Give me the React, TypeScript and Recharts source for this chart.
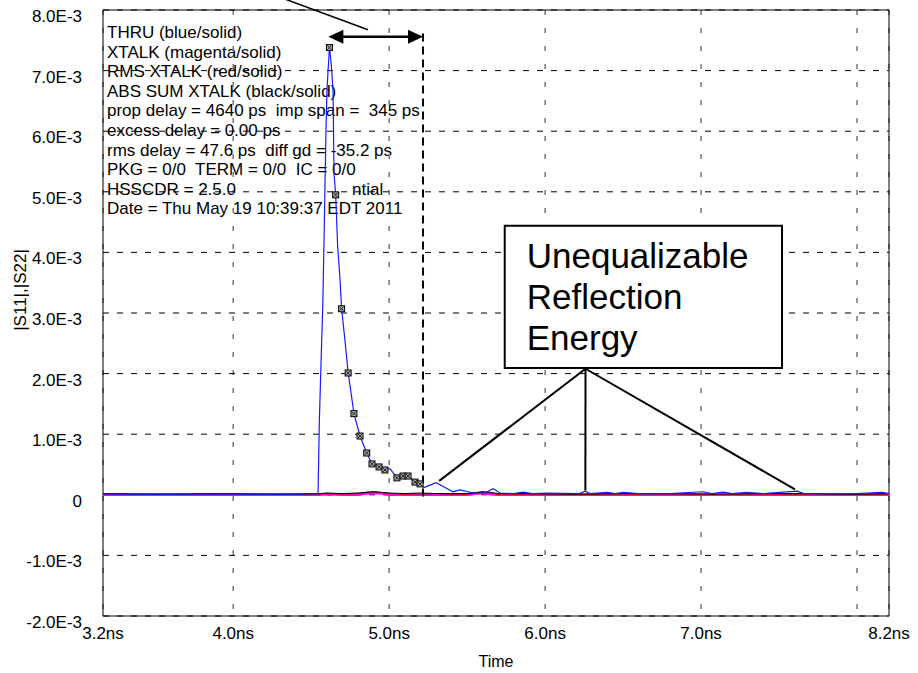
import React from "react";
import {
  ComposedChart,
  Line,
  XAxis,
  YAxis,
  CartesianGrid,
  ReferenceLine,
  ReferenceArea,
} from "recharts";

// magnitudes are kept in units of 1E-3, time in ns
const thruTime = [
  3.165, 3.5, 3.9, 4.2, 4.45, 4.544, 4.552, 4.563, 4.574, 4.582, 4.588, 4.595, 4.601, 4.617, 4.627,
  4.64, 4.643, 4.646, 4.657, 4.67, 4.685, 4.695, 4.716, 4.737, 4.759, 4.774, 4.813, 4.856, 4.89,
  4.935, 4.973, 5.005, 5.05, 5.089, 5.121, 5.166, 5.198, 5.223, 5.262, 5.3, 5.358, 5.409, 5.454,
  5.538, 5.614, 5.666, 5.711, 5.8, 5.858, 5.92, 6.012, 6.22, 6.256, 6.29, 6.397, 6.45, 6.499, 6.6,
  6.8, 7.012, 7.07, 7.141, 7.2, 7.294, 7.4, 7.615, 7.66, 8.0, 8.16, 8.205,
];
const thruMag = [
  0.01, 0.01, 0.01, 0.01, 0.01, 0.02, 1.19, 2.18, 3.1, 4.16, 5.03, 6.02, 6.68, 7.38, 7.15, 6.68,
  6.02, 5.31, 4.95, 4.09, 3.55, 3.07, 2.56, 2.01, 1.62, 1.34, 0.97, 0.69, 0.51, 0.46, 0.41, 0.43,
  0.28, 0.31, 0.31, 0.21, 0.18, 0.12, 0.16, 0.2, 0.12, 0.05, 0.08, 0.03, 0.03, 0.1, 0.03, 0.02,
  0.045, 0.02, 0.03, 0.02, 0.06, 0.02, 0.04, 0.02, 0.04, 0.02, 0.02, 0.05, 0.02, 0.045, 0.02,
  0.04, 0.02, 0.06, 0.02, 0.02, 0.04, 0.02,
];

// sample markers along the THRU decay
const markerTime = [
  4.617, 4.657, 4.695, 4.737, 4.774, 4.813, 4.856, 4.89, 4.935, 4.973, 5.05, 5.089, 5.121, 5.166,
  5.198,
];
const markerMag = [
  7.38, 4.95, 3.07, 2.01, 1.34, 0.97, 0.69, 0.51, 0.46, 0.41, 0.28, 0.31, 0.31, 0.21, 0.18,
];

// crosstalk traces sit on the floor
const lowTime = [
  3.165, 3.5, 3.9, 4.3, 4.55, 4.6, 4.7, 4.8, 4.85, 4.9, 4.95, 5.0, 5.1, 5.2, 5.3, 5.4, 5.5, 5.56,
  5.6, 5.65, 5.7, 5.9, 6.2, 6.5, 6.8, 7.1, 7.4, 7.7, 8.0, 8.205,
];
const xtalkMag = [
  0, 0, 0, 0, 0, 0.01, 0, 0, 0.02, 0.03, 0.02, 0, 0, 0, 0, 0, 0, 0.02, 0.03, 0.01, 0, 0, 0, 0, 0,
  0, 0, 0, 0, 0,
];
const rmsXtalkMag = [
  0.01, 0.01, 0.01, 0.01, 0.01, 0.02, 0.01, 0.02, 0.04, 0.05, 0.04, 0.02, 0.01, 0.01, 0.02, 0.01,
  0.01, 0.03, 0.05, 0.03, 0.01, 0.01, 0.01, 0.01, 0.01, 0.01, 0.01, 0.01, 0.01, 0.01,
];
const absSumMag = [
  0.02, 0.01, 0.02, 0.01, 0.02, 0.03, 0.02, 0.03, 0.04, 0.05, 0.04, 0.03, 0.02, 0.03, 0.02, 0.02,
  0.02, 0.04, 0.05, 0.04, 0.02, 0.02, 0.01, 0.02, 0.02, 0.01, 0.02, 0.02, 0.01, 0.02,
];

const xTicks = [3.165, 4, 5, 6, 7, 8, 8.205];
const xTickLabels = ["3.2ns", "4.0ns", "5.0ns", "6.0ns", "7.0ns", "", "8.2ns"];
const yTicks = [-2, -1, 0, 1, 2, 3, 4, 5, 6, 7, 8];
const yTickLabels = [
  "-2.0E-3", "-1.0E-3", "0", "1.0E-3", "2.0E-3", "3.0E-3", "4.0E-3", "5.0E-3", "6.0E-3",
  "7.0E-3", "8.0E-3",
];

const infoLines = [
  "THRU (blue/solid)",
  "XTALK (magenta/solid)",
  "RMS XTALK (red/solid)",
  "ABS SUM XTALK (black/solid)",
  "prop delay = 4640 ps  imp span =  345 ps",
  "excess delay = 0.00 ps",
  "rms delay = 47.6 ps  diff gd = -35.2 ps",
  "PKG = 0/0  TERM = 0/0  IC = 0/0",
  "HSSCDR = 2.5.0",
  "Date = Thu May 19 10:39:37 EDT 2011",
];
const calloutLines = ["Unequalizable", "Reflection", "Energy"];

// annotation anchors (ns, 1E-3)
const spanStart = 4.61;
const spanEnd = 5.217;
const spanLevel = 7.558;
const calloutApex = { x: 6.259, y: 2.08 };
const calloutTargets = [
  { x: 5.321, y: 0.23 },
  { x: 6.258, y: 0.07 },
  { x: 7.602, y: 0.09 },
];

const zip = (t: number[], v: number[]) => t.map((x, i) => ({ t: x, v: v[i] }));
const thruData = zip(thruTime, thruMag);
const markerData = zip(markerTime, markerMag);
const xtalkData = zip(lowTime, xtalkMag);
const rmsData = zip(lowTime, rmsXtalkMag);
const absData = zip(lowTime, absSumMag);

const FONT = "'Liberation Sans', Arial, sans-serif";

const XTick = (p: any) => {
  const label = xTickLabels[xTicks.indexOf(p.payload.value)];
  return (
    <text x={p.x} y={p.y} dy="0.35em" textAnchor="middle" fontFamily={FONT} fontSize={17} fill="#000">
      {label}
    </text>
  );
};

const YTick = (p: any) => {
  const label = yTickLabels[yTicks.indexOf(p.payload.value)];
  return (
    <text x={p.x} y={p.y + 6} dy="0.35em" textAnchor="end" fontFamily={FONT} fontSize={17} fill="#000">
      {label}
    </text>
  );
};

const Marker = (p: any) => {
  const { cx, cy } = p;
  if (cx == null || cy == null) return <g />;
  return (
    <g>
      <rect x={cx - 3} y={cy - 3} width={6} height={6} fill="#a8a8a8" stroke="#000" strokeWidth={1} />
      <path d={`M${cx - 2},${cy - 2}L${cx + 2},${cy + 2}M${cx + 2},${cy - 2}L${cx - 2},${cy + 2}`} stroke="#000" strokeWidth={0.8} />
    </g>
  );
};

const SpanArrow = (p: any) => {
  const { x1, y1, x2 } = p;
  const L = 15;
  const h = 7;
  return (
    <g>
      <line x1={x1 + L - 2} y1={y1} x2={x2 - L + 2} y2={y1} stroke="#000" strokeWidth={2.5} />
      <polygon points={`${x1},${y1} ${x1 + L},${y1 - h} ${x1 + L},${y1 + h}`} fill="#000" />
      <polygon points={`${x2},${y1} ${x2 - L},${y1 - h} ${x2 - L},${y1 + h}`} fill="#000" />
    </g>
  );
};

const CalloutText = (p: any) => {
  const vb = p.viewBox;
  return (
    <text fontFamily={FONT} fontSize={35} fill="#000">
      {calloutLines.map((s, i) => (
        <tspan key={s} x={vb.x + 22} y={vb.y + 42 + i * 41}>
          {s}
        </tspan>
      ))}
    </text>
  );
};

export default function App() {
  return (
    <div style={{ position: "absolute", left: 0, top: 0, width: 918, height: 673, background: "#fff" }}>
      {/* info block sits under the svg so the grid runs across it */}
      <div
        style={{
          position: "absolute",
          left: 107,
          top: 23,
          fontFamily: FONT,
          fontSize: 17,
          lineHeight: "19.6px",
          whiteSpace: "pre",
          color: "#000",
        }}
      >
        {infoLines.map((s, i) => (
          <div key={i} style={{ position: "relative" }}>
            {s}
            {i === 8 && <span style={{ position: "absolute", left: 245, top: 0 }}>ntial</span>}
          </div>
        ))}
      </div>
      <ComposedChart width={918} height={673} margin={{ top: 10, right: 29, bottom: 7, left: 8 }}>
        <CartesianGrid horizontal={false} stroke="#777" strokeWidth={1.5} strokeDasharray="5 13" />
        <CartesianGrid vertical={false} stroke="#000" strokeWidth={1} strokeDasharray="6 8" />
        <XAxis
          type="number"
          dataKey="t"
          domain={[3.165, 8.205]}
          ticks={xTicks}
          interval={0}
          allowDataOverflow
          height={50}
          axisLine={false}
          tickLine={false}
          tickSize={0}
          tickMargin={17}
          tick={XTick}
          label={(p: any) => (
            <text
              x={p.viewBox.x + p.viewBox.width / 2}
              y={p.viewBox.y + 45}
              dy="0.35em"
              textAnchor="middle"
              fontFamily={FONT}
              fontSize={16}
            >
              Time
            </text>
          )}
        />
        <YAxis
          type="number"
          dataKey="v"
          domain={[-2, 8]}
          ticks={yTicks}
          interval={0}
          allowDataOverflow
          width={95}
          axisLine={false}
          tickLine={false}
          tickSize={0}
          tickMargin={21}
          tick={YTick}
          label={(p: any) => (
            <text
              x={p.viewBox.x + 12}
              y={290}
              dy="0.35em"
              textAnchor="middle"
              fontFamily={FONT}
              fontSize={17}
              transform={`rotate(-90 ${p.viewBox.x + 12} 290)`}
            >
              |S11|,|S22|
            </text>
          )}
        />
        <ReferenceArea x1={3.165} x2={8.205} y1={-2} y2={8} fill="none" stroke="#000" strokeWidth={1} />
        <Line data={xtalkData} dataKey="v" stroke="#ff00ff" strokeWidth={2.5} dot={false} activeDot={false} isAnimationActive={false} />
        <Line data={rmsData} dataKey="v" stroke="#d00000" strokeWidth={1} dot={false} activeDot={false} isAnimationActive={false} />
        <Line data={absData} dataKey="v" stroke="#000" strokeWidth={1} dot={false} activeDot={false} isAnimationActive={false} />
        <Line data={thruData} dataKey="v" stroke="#1a1aff" strokeWidth={1.2} dot={false} activeDot={false} isAnimationActive={false} />
        <Line data={markerData} dataKey="v" stroke="none" dot={Marker} activeDot={false} isAnimationActive={false} />
        <ReferenceLine
          segment={[{ x: spanEnd, y: -0.03 }, { x: spanEnd, y: 7.69 }]}
          stroke="#000"
          strokeWidth={2}
          strokeDasharray="8 5"
        />
        <ReferenceLine
          segment={[{ x: spanStart, y: spanLevel }, { x: spanEnd, y: spanLevel }]}
          shape={SpanArrow}
        />
        <ReferenceLine
          segment={[{ x: 4.172, y: 8.333 }, { x: 4.864, y: 7.673 }]}
          stroke="#000"
          strokeWidth={1.5}
          ifOverflow="visible"
        />
        <ReferenceArea
          x1={5.741}
          x2={7.519}
          y1={2.091}
          y2={4.439}
          fill="#fff"
          fillOpacity={1}
          stroke="#000"
          strokeWidth={2}
          label={CalloutText}
        />
        {calloutTargets.map((c, i) => (
          <ReferenceLine
            key={i}
            segment={[calloutApex, c]}
            stroke="#000"
            strokeWidth={2}
          />
        ))}
      </ComposedChart>
    </div>
  );
}
